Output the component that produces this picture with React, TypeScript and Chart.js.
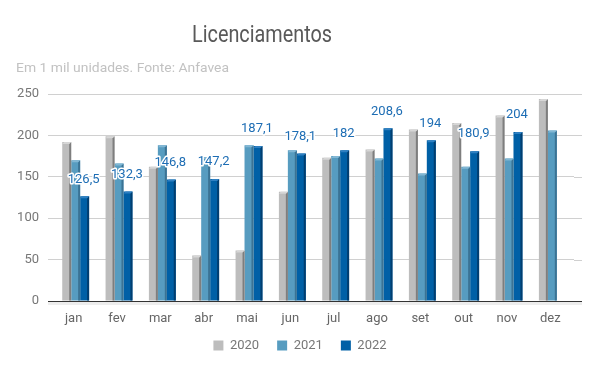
import React, { useEffect, useRef } from 'react';
import { Chart, registerables } from 'chart.js';

Chart.register(...registerables);

const months = ['jan', 'fev', 'mar', 'abr', 'mai', 'jun', 'jul', 'ago', 'set', 'out', 'nov', 'dez'];
const seriesNames = ['2020', '2021', '2022'];
const values2020 = [192, 199, 162, 55, 61, 132, 173, 183, 207, 215, 224, 244];
const values2021 = [170, 166, 188, 174, 188, 182, 175, 172, 154, 162, 172, 206];
const values2022: (number | null)[] = [126.5, 132.3, 146.8, 147.2, 187.1, 178.1, 182, 208.6, 194, 180.9, 204, null];
const yMin = 0;
const yMax = 250;
const yStep = 50;
const titleText = 'Licenciamentos';
const subtitleText = 'Em 1 mil unidades. Fonte: Anfavea';

const FRONT = ['#bdbdbd', '#579cc0', '#0060a6'];
const SIDE = ['#7e7e7e', '#3b7394', '#003e70'];
const TOPC = ['#d6d6d6', '#82b7d4', '#2f80c2'];
const FONT = 'Roboto';

const fmt = (v: number) => String(v).replace('.', ',');

const decorPlugin = {
  id: 'decor',
  afterLayout(chart: any) {
    const lg = chart.legend;
    if (lg) {
      lg.top -= 6;
      lg.bottom -= 6;
    }
  },
  beforeDraw(chart: any) {
    const { ctx } = chart;
    ctx.save();
    ctx.font = `23px ${FONT}`;
    ctx.fillStyle = '#595959';
    ctx.textBaseline = 'alphabetic';
    ctx.textAlign = 'left';
    let w = ctx.measureText(titleText).width;
    let sx = 140 / w;
    ctx.save();
    ctx.translate(192, 42);
    ctx.scale(sx, 1);
    ctx.fillText(titleText, 0, 0);
    ctx.restore();
    ctx.font = `13px ${FONT}`;
    ctx.fillStyle = '#c2c2c2';
    w = ctx.measureText(subtitleText).width;
    sx = 213 / w;
    ctx.save();
    ctx.translate(16, 71.5);
    ctx.scale(sx, 1);
    ctx.fillText(subtitleText, 0, 0);
    ctx.restore();
    ctx.restore();
  },
  beforeDatasetsDraw(chart: any) {
    const { ctx, chartArea, scales } = chart;
    const y = scales.y;
    ctx.save();
    ctx.strokeStyle = '#d0d0d0';
    ctx.lineWidth = 1;
    y.ticks.forEach((t: any) => {
      const py = Math.round(y.getPixelForValue(t.value)) + 0.5;
      ctx.beginPath();
      ctx.moveTo(chartArea.right, py);
      ctx.lineTo(chartArea.right + 8, py);
      ctx.stroke();
    });
    ctx.fillStyle = '#ededed';
    ctx.fillRect(48, Math.round(chartArea.bottom) + 1, chartArea.right + 8 - 48, 3);
    ctx.restore();
  },
  afterDatasetsDraw(chart: any) {
    const { ctx, chartArea } = chart;
    ctx.save();
    for (let d = 0; d < 3; d++) {
      const meta = chart.getDatasetMeta(d);
      meta.data.forEach((el: any, i: number) => {
        const v = chart.data.datasets[d].data[i];
        if (v == null) return;
        const left = el.x - el.width / 2;
        const right = el.x + el.width / 2;
        const top = el.y;
        const bottom = el.base;
        const s = 2;
        ctx.fillStyle = SIDE[d];
        ctx.beginPath();
        ctx.moveTo(right - s, top + s);
        ctx.lineTo(right, top);
        ctx.lineTo(right, bottom);
        ctx.lineTo(right - s, bottom);
        ctx.closePath();
        ctx.fill();
        ctx.fillStyle = TOPC[d];
        ctx.beginPath();
        ctx.moveTo(left, top + s);
        ctx.lineTo(left + s, top);
        ctx.lineTo(right, top);
        ctx.lineTo(right - s, top + s);
        ctx.closePath();
        ctx.fill();
      });
    }
    ctx.strokeStyle = '#333333';
    ctx.lineWidth = 1;
    const by = Math.round(chartArea.bottom) + 0.5;
    ctx.beginPath();
    ctx.moveTo(48, by);
    ctx.lineTo(chartArea.right + 8, by);
    ctx.stroke();
    const meta = chart.getDatasetMeta(2);
    ctx.font = `13px ${FONT}`;
    ctx.textAlign = 'center';
    ctx.textBaseline = 'middle';
    ctx.lineJoin = 'round';
    meta.data.forEach((el: any, i: number) => {
      const v = chart.data.datasets[2].data[i];
      if (v == null) return;
      const tx = el.x - 1;
      const ty = el.y - 17;
      ctx.strokeStyle = '#ffffff';
      ctx.lineWidth = 3;
      ctx.strokeText(fmt(v), tx, ty);
      ctx.fillStyle = '#1d6db4';
      ctx.fillText(fmt(v), tx, ty);
    });
    ctx.restore();
  },
};

export default function App() {
  const ref = useRef<HTMLCanvasElement>(null);
  useEffect(() => {
    if (!ref.current) return;
    const chart = new Chart(ref.current, {
      type: 'bar',
      data: {
        labels: months,
        datasets: [
          { label: seriesNames[0], data: values2020, backgroundColor: FRONT[0] },
          { label: seriesNames[1], data: values2021, backgroundColor: FRONT[1] },
          { label: seriesNames[2], data: values2022, backgroundColor: FRONT[2] },
        ],
      },
      options: {
        responsive: false,
        devicePixelRatio: 1,
        animation: false,
        datasets: { bar: { categoryPercentage: 0.62, barPercentage: 1 } },
        layout: { padding: { top: 94, left: 0, right: 0, bottom: 3 } },
        plugins: {
          title: { display: false },
          tooltip: { enabled: false },
          legend: {
            position: 'bottom',
            labels: {
              boxWidth: 10,
              boxHeight: 10,
              padding: 18,
              color: '#777777',
              font: { family: FONT, size: 13 },
            },
          },
        },
        scales: {
          x: {
            grid: { display: false, drawTicks: false },
            border: { display: false },
            ticks: {
              color: '#666666',
              font: { family: FONT, size: 13 },
              padding: 10,
              labelOffset: -2,
              maxRotation: 0,
              autoSkip: false,
            },
            afterFit: (s: any) => { s.height = 26; },
          },
          y: {
            min: yMin,
            max: yMax,
            grid: { color: '#d0d0d0', tickLength: 6, drawTicks: true },
            border: { display: false },
            ticks: {
              stepSize: yStep,
              color: '#777777',
              font: { family: FONT, size: 13 },
              padding: 9,
            },
            afterFit: (s: any) => { s.width = 54; },
          },
          yR: {
            type: 'linear',
            position: 'right',
            display: true,
            grid: { display: false },
            border: { display: false },
            ticks: { display: false },
            afterFit: (s: any) => { s.width = 26; },
          },
        },
      },
      plugins: [decorPlugin],
    } as any);
    return () => chart.destroy();
  }, []);
  return (
    <div style={{ position: 'absolute', left: 0, top: 0, width: 600, height: 371, background: '#fff' }}>
      <canvas ref={ref} width={600} height={371} style={{ display: 'block' }} />
    </div>
  );
}
